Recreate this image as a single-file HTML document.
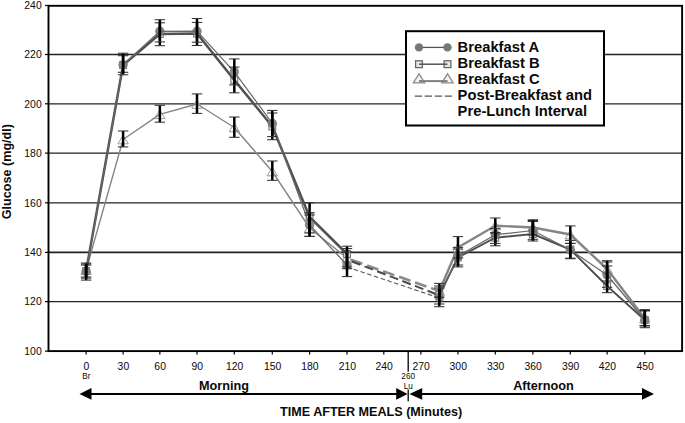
<!DOCTYPE html>
<html><head><meta charset="utf-8"><title>Glucose chart</title>
<style>
html,body{margin:0;padding:0;background:#fff;}
body{width:685px;height:423px;overflow:hidden;position:relative;font-family:"Liberation Sans",sans-serif;}
svg text{font-family:"Liberation Sans",sans-serif;fill:#0a0a0a;}
.tk{font-size:10.4px;}
.sm{font-size:8.2px;}
.lg{font-size:14.75px;font-weight:bold;}
.ax{font-size:12.6px;font-weight:bold;}
.mo{font-size:12.7px;font-weight:bold;}
</style></head><body>
<svg width="685" height="423" viewBox="0 0 685 423" style="position:absolute;left:0;top:0">
<rect x="0" y="0" width="685" height="423" fill="#fff"/>
<line x1="48.5" x2="682.5" y1="301.60" y2="301.60" stroke="#222" stroke-width="1.35"/>
<line x1="48.5" x2="682.5" y1="252.40" y2="252.40" stroke="#222" stroke-width="1.6"/>
<line x1="48.5" x2="682.5" y1="202.80" y2="202.80" stroke="#222" stroke-width="1.35"/>
<line x1="48.5" x2="682.5" y1="153.10" y2="153.10" stroke="#222" stroke-width="1.35"/>
<line x1="48.5" x2="682.5" y1="103.80" y2="103.80" stroke="#222" stroke-width="1.35"/>
<line x1="48.5" x2="682.5" y1="54.50" y2="54.50" stroke="#222" stroke-width="1.35"/>
<rect x="48.5" y="5.8" width="633.6" height="345.3" fill="none" stroke="#000" stroke-width="1.9"/>
<line x1="45" x2="48.5" y1="351.10" y2="351.10" stroke="#000" stroke-width="1.2"/>
<text x="41.7" y="354.80" text-anchor="end" class="tk">100</text>
<line x1="45" x2="48.5" y1="301.60" y2="301.60" stroke="#000" stroke-width="1.2"/>
<text x="41.7" y="305.30" text-anchor="end" class="tk">120</text>
<line x1="45" x2="48.5" y1="252.40" y2="252.40" stroke="#000" stroke-width="1.2"/>
<text x="41.7" y="256.10" text-anchor="end" class="tk">140</text>
<line x1="45" x2="48.5" y1="202.80" y2="202.80" stroke="#000" stroke-width="1.2"/>
<text x="41.7" y="206.50" text-anchor="end" class="tk">160</text>
<line x1="45" x2="48.5" y1="153.10" y2="153.10" stroke="#000" stroke-width="1.2"/>
<text x="41.7" y="156.80" text-anchor="end" class="tk">180</text>
<line x1="45" x2="48.5" y1="103.80" y2="103.80" stroke="#000" stroke-width="1.2"/>
<text x="41.7" y="107.50" text-anchor="end" class="tk">200</text>
<line x1="45" x2="48.5" y1="54.50" y2="54.50" stroke="#000" stroke-width="1.2"/>
<text x="41.7" y="58.20" text-anchor="end" class="tk">220</text>
<line x1="45" x2="48.5" y1="5.50" y2="5.50" stroke="#000" stroke-width="1.2"/>
<text x="41.7" y="9.20" text-anchor="end" class="tk">240</text>
<line x1="86.10" x2="86.10" y1="351" y2="354.6" stroke="#000" stroke-width="1.2"/>
<text x="86.40" y="370" text-anchor="middle" class="tk">0</text>
<line x1="123.10" x2="123.10" y1="351" y2="354.6" stroke="#000" stroke-width="1.2"/>
<text x="123.40" y="370" text-anchor="middle" class="tk">30</text>
<line x1="159.85" x2="159.85" y1="351" y2="354.6" stroke="#000" stroke-width="1.2"/>
<text x="160.15" y="370" text-anchor="middle" class="tk">60</text>
<line x1="197.00" x2="197.00" y1="351" y2="354.6" stroke="#000" stroke-width="1.2"/>
<text x="197.30" y="370" text-anchor="middle" class="tk">90</text>
<line x1="234.30" x2="234.30" y1="351" y2="354.6" stroke="#000" stroke-width="1.2"/>
<text x="234.60" y="370" text-anchor="middle" class="tk">120</text>
<line x1="272.30" x2="272.30" y1="351" y2="354.6" stroke="#000" stroke-width="1.2"/>
<text x="272.60" y="370" text-anchor="middle" class="tk">150</text>
<line x1="309.60" x2="309.60" y1="351" y2="354.6" stroke="#000" stroke-width="1.2"/>
<text x="309.90" y="370" text-anchor="middle" class="tk">180</text>
<line x1="347.00" x2="347.00" y1="351" y2="354.6" stroke="#000" stroke-width="1.2"/>
<text x="347.30" y="370" text-anchor="middle" class="tk">210</text>
<line x1="383.80" x2="383.80" y1="351" y2="354.6" stroke="#000" stroke-width="1.2"/>
<text x="384.10" y="370" text-anchor="middle" class="tk">240</text>
<line x1="420.90" x2="420.90" y1="351" y2="354.6" stroke="#000" stroke-width="1.2"/>
<text x="421.20" y="370" text-anchor="middle" class="tk">270</text>
<line x1="457.95" x2="457.95" y1="351" y2="354.6" stroke="#000" stroke-width="1.2"/>
<text x="458.25" y="370" text-anchor="middle" class="tk">300</text>
<line x1="495.30" x2="495.30" y1="351" y2="354.6" stroke="#000" stroke-width="1.2"/>
<text x="495.60" y="370" text-anchor="middle" class="tk">330</text>
<line x1="532.90" x2="532.90" y1="351" y2="354.6" stroke="#000" stroke-width="1.2"/>
<text x="533.20" y="370" text-anchor="middle" class="tk">360</text>
<line x1="570.30" x2="570.30" y1="351" y2="354.6" stroke="#000" stroke-width="1.2"/>
<text x="570.60" y="370" text-anchor="middle" class="tk">390</text>
<line x1="607.10" x2="607.10" y1="351" y2="354.6" stroke="#000" stroke-width="1.2"/>
<text x="607.40" y="370" text-anchor="middle" class="tk">420</text>
<line x1="644.80" x2="644.80" y1="351" y2="354.6" stroke="#000" stroke-width="1.2"/>
<text x="645.10" y="370" text-anchor="middle" class="tk">450</text>
<text x="86.40" y="379" text-anchor="middle" class="sm">Br</text>
<line x1="408.20" x2="408.20" y1="351" y2="371.7" stroke="#000" stroke-width="1.3"/>
<line x1="408.20" x2="408.20" y1="389.5" y2="401.3" stroke="#000" stroke-width="1.3"/>
<text x="408.20" y="378.8" text-anchor="middle" class="sm">260</text>
<text x="408.20" y="388.8" text-anchor="middle" class="sm">Lu</text>
<polygon points="86.10,265.70 80.90,274.30 91.30,274.30" fill="#fff" fill-opacity="0.75" stroke="#9a9a9a" stroke-width="1"/>
<polygon points="123.10,135.20 117.90,143.80 128.30,143.80" fill="#fff" fill-opacity="0.75" stroke="#9a9a9a" stroke-width="1"/>
<polygon points="159.85,110.00 154.65,118.60 165.05,118.60" fill="#fff" fill-opacity="0.75" stroke="#9a9a9a" stroke-width="1"/>
<polygon points="197.00,99.70 191.80,108.30 202.20,108.30" fill="#fff" fill-opacity="0.75" stroke="#9a9a9a" stroke-width="1"/>
<polygon points="234.30,123.20 229.10,131.80 239.50,131.80" fill="#fff" fill-opacity="0.75" stroke="#9a9a9a" stroke-width="1"/>
<polygon points="272.30,167.20 267.10,175.80 277.50,175.80" fill="#fff" fill-opacity="0.75" stroke="#9a9a9a" stroke-width="1"/>
<polygon points="309.60,223.70 304.40,232.30 314.80,232.30" fill="#fff" fill-opacity="0.75" stroke="#9a9a9a" stroke-width="1"/>
<polygon points="347.00,253.70 341.80,262.30 352.20,262.30" fill="#fff" fill-opacity="0.75" stroke="#9a9a9a" stroke-width="1"/>
<polygon points="439.30,286.70 434.10,295.30 444.50,295.30" fill="#fff" fill-opacity="0.75" stroke="#9a9a9a" stroke-width="1"/>
<polygon points="457.95,243.20 452.75,251.80 463.15,251.80" fill="#fff" fill-opacity="0.75" stroke="#9a9a9a" stroke-width="1"/>
<polygon points="495.30,221.40 490.10,230.00 500.50,230.00" fill="#fff" fill-opacity="0.75" stroke="#9a9a9a" stroke-width="1"/>
<polygon points="532.90,223.20 527.70,231.80 538.10,231.80" fill="#fff" fill-opacity="0.75" stroke="#9a9a9a" stroke-width="1"/>
<polygon points="570.30,230.20 565.10,238.80 575.50,238.80" fill="#fff" fill-opacity="0.75" stroke="#9a9a9a" stroke-width="1"/>
<polygon points="607.10,264.70 601.90,273.30 612.30,273.30" fill="#fff" fill-opacity="0.75" stroke="#9a9a9a" stroke-width="1"/>
<polygon points="644.80,314.20 639.60,322.80 650.00,322.80" fill="#fff" fill-opacity="0.75" stroke="#9a9a9a" stroke-width="1"/>
<polyline points="86.10,270.00 123.10,139.50 159.85,114.30 197.00,104.00 234.30,127.50 272.30,171.50 309.60,228.00 347.00,258.00" fill="none" stroke="#858585" stroke-width="1.4" stroke-linejoin="round"/>
<polyline points="439.30,291.00 457.95,247.50 495.30,225.70 532.90,227.50 570.30,234.50 607.10,269.00 644.80,318.50" fill="none" stroke="#858585" stroke-width="2.4" stroke-linejoin="round"/>
<line x1="351.00" y1="259.80" x2="439.30" y2="291.00" stroke="#8a8a8a" stroke-width="2.6" stroke-dasharray="12 5"/>
<rect x="82.70" y="267.60" width="6.8" height="6.8" fill="#eee" fill-opacity="0.8" stroke="#777" stroke-width="1.1"/>
<rect x="119.70" y="61.60" width="6.8" height="6.8" fill="#eee" fill-opacity="0.8" stroke="#777" stroke-width="1.1"/>
<rect x="156.45" y="30.60" width="6.8" height="6.8" fill="#eee" fill-opacity="0.8" stroke="#777" stroke-width="1.1"/>
<rect x="193.60" y="30.10" width="6.8" height="6.8" fill="#eee" fill-opacity="0.8" stroke="#777" stroke-width="1.1"/>
<rect x="230.90" y="76.60" width="6.8" height="6.8" fill="#eee" fill-opacity="0.8" stroke="#777" stroke-width="1.1"/>
<rect x="268.90" y="123.10" width="6.8" height="6.8" fill="#eee" fill-opacity="0.8" stroke="#777" stroke-width="1.1"/>
<rect x="306.20" y="213.60" width="6.8" height="6.8" fill="#eee" fill-opacity="0.8" stroke="#777" stroke-width="1.1"/>
<rect x="343.60" y="250.60" width="6.8" height="6.8" fill="#eee" fill-opacity="0.8" stroke="#777" stroke-width="1.1"/>
<rect x="435.90" y="291.60" width="6.8" height="6.8" fill="#eee" fill-opacity="0.8" stroke="#777" stroke-width="1.1"/>
<rect x="454.55" y="254.10" width="6.8" height="6.8" fill="#eee" fill-opacity="0.8" stroke="#777" stroke-width="1.1"/>
<rect x="491.90" y="234.30" width="6.8" height="6.8" fill="#eee" fill-opacity="0.8" stroke="#777" stroke-width="1.1"/>
<rect x="529.50" y="230.60" width="6.8" height="6.8" fill="#eee" fill-opacity="0.8" stroke="#777" stroke-width="1.1"/>
<rect x="566.90" y="246.10" width="6.8" height="6.8" fill="#eee" fill-opacity="0.8" stroke="#777" stroke-width="1.1"/>
<rect x="603.70" y="282.60" width="6.8" height="6.8" fill="#eee" fill-opacity="0.8" stroke="#777" stroke-width="1.1"/>
<rect x="641.40" y="316.60" width="6.8" height="6.8" fill="#eee" fill-opacity="0.8" stroke="#777" stroke-width="1.1"/>
<polyline points="86.10,271.00 123.10,65.00 159.85,34.00 197.00,33.50 234.30,80.00 272.30,126.50 309.60,217.00 347.00,254.00" fill="none" stroke="#505050" stroke-width="2.5" stroke-linejoin="round"/>
<polyline points="439.30,295.00 457.95,257.50 495.30,237.70 532.90,234.00 570.30,249.50 607.10,286.00 644.80,320.00" fill="none" stroke="#505050" stroke-width="1.9" stroke-linejoin="round"/>
<line x1="352.00" y1="261.50" x2="439.30" y2="295.30" stroke="#4a4a4a" stroke-width="1.9" stroke-dasharray="9 4.5"/>
<circle cx="86.10" cy="271.50" r="4.7" fill="#7d7d7d" fill-opacity="0.92"/>
<circle cx="123.10" cy="64.80" r="4.7" fill="#7d7d7d" fill-opacity="0.92"/>
<circle cx="159.85" cy="31.30" r="4.7" fill="#7d7d7d" fill-opacity="0.92"/>
<circle cx="197.00" cy="31.20" r="4.7" fill="#7d7d7d" fill-opacity="0.92"/>
<circle cx="234.30" cy="71.90" r="4.7" fill="#7d7d7d" fill-opacity="0.92"/>
<circle cx="272.30" cy="123.40" r="4.7" fill="#7d7d7d" fill-opacity="0.92"/>
<circle cx="309.60" cy="225.00" r="4.7" fill="#7d7d7d" fill-opacity="0.92"/>
<circle cx="347.00" cy="265.00" r="4.7" fill="#7d7d7d" fill-opacity="0.92"/>
<circle cx="439.30" cy="297.50" r="4.7" fill="#7d7d7d" fill-opacity="0.92"/>
<circle cx="457.95" cy="256.00" r="4.7" fill="#7d7d7d" fill-opacity="0.92"/>
<circle cx="495.30" cy="234.70" r="4.7" fill="#7d7d7d" fill-opacity="0.92"/>
<circle cx="532.90" cy="230.50" r="4.7" fill="#7d7d7d" fill-opacity="0.92"/>
<circle cx="570.30" cy="250.00" r="4.7" fill="#7d7d7d" fill-opacity="0.92"/>
<circle cx="607.10" cy="275.00" r="4.7" fill="#7d7d7d" fill-opacity="0.92"/>
<circle cx="644.80" cy="320.00" r="4.7" fill="#7d7d7d" fill-opacity="0.92"/>
<polyline points="86.10,271.50 123.10,64.80 159.85,31.30 197.00,31.20 234.30,71.90 272.30,123.40 309.60,225.00 347.00,265.00" fill="none" stroke="#666" stroke-width="1.2" stroke-linejoin="round"/>
<polyline points="439.30,297.50 457.95,256.00 495.30,234.70 532.90,230.50 570.30,250.00 607.10,275.00 644.80,320.00" fill="none" stroke="#666" stroke-width="1.2" stroke-linejoin="round"/>
<line x1="347.00" y1="267.00" x2="439.30" y2="298.00" stroke="#555" stroke-width="1.1" stroke-dasharray="4.5 2.6"/>
<line x1="86.10" x2="86.10" y1="264.00" y2="277.00" stroke="#000" stroke-width="2.5"/>
<line x1="80.90" x2="91.30" y1="264.00" y2="264.00" stroke="#333" stroke-width="1.05"/>
<line x1="80.90" x2="91.30" y1="277.00" y2="277.00" stroke="#333" stroke-width="1.05"/>
<line x1="123.10" x2="123.10" y1="131.00" y2="146.90" stroke="#000" stroke-width="2.5"/>
<line x1="117.90" x2="128.30" y1="131.00" y2="131.00" stroke="#333" stroke-width="1.05"/>
<line x1="117.90" x2="128.30" y1="146.90" y2="146.90" stroke="#333" stroke-width="1.05"/>
<line x1="159.85" x2="159.85" y1="105.30" y2="122.20" stroke="#000" stroke-width="2.5"/>
<line x1="154.65" x2="165.05" y1="105.30" y2="105.30" stroke="#333" stroke-width="1.05"/>
<line x1="154.65" x2="165.05" y1="122.20" y2="122.20" stroke="#333" stroke-width="1.05"/>
<line x1="197.00" x2="197.00" y1="93.90" y2="113.40" stroke="#000" stroke-width="2.5"/>
<line x1="191.80" x2="202.20" y1="93.90" y2="93.90" stroke="#333" stroke-width="1.05"/>
<line x1="191.80" x2="202.20" y1="113.40" y2="113.40" stroke="#333" stroke-width="1.05"/>
<line x1="234.30" x2="234.30" y1="117.00" y2="137.30" stroke="#000" stroke-width="2.5"/>
<line x1="229.10" x2="239.50" y1="117.00" y2="117.00" stroke="#333" stroke-width="1.05"/>
<line x1="229.10" x2="239.50" y1="137.30" y2="137.30" stroke="#333" stroke-width="1.05"/>
<line x1="272.30" x2="272.30" y1="161.00" y2="180.30" stroke="#000" stroke-width="2.5"/>
<line x1="267.10" x2="277.50" y1="161.00" y2="161.00" stroke="#333" stroke-width="1.05"/>
<line x1="267.10" x2="277.50" y1="180.30" y2="180.30" stroke="#333" stroke-width="1.05"/>
<line x1="309.60" x2="309.60" y1="215.00" y2="236.40" stroke="#000" stroke-width="2.5"/>
<line x1="304.40" x2="314.80" y1="215.00" y2="215.00" stroke="#333" stroke-width="1.05"/>
<line x1="304.40" x2="314.80" y1="236.40" y2="236.40" stroke="#333" stroke-width="1.05"/>
<line x1="347.00" x2="347.00" y1="248.60" y2="268.70" stroke="#000" stroke-width="2.5"/>
<line x1="341.80" x2="352.20" y1="248.60" y2="248.60" stroke="#333" stroke-width="1.05"/>
<line x1="341.80" x2="352.20" y1="268.70" y2="268.70" stroke="#333" stroke-width="1.05"/>
<line x1="439.30" x2="439.30" y1="283.40" y2="297.20" stroke="#000" stroke-width="2.5"/>
<line x1="434.10" x2="444.50" y1="283.40" y2="283.40" stroke="#333" stroke-width="1.05"/>
<line x1="434.10" x2="444.50" y1="297.20" y2="297.20" stroke="#333" stroke-width="1.05"/>
<line x1="457.95" x2="457.95" y1="236.60" y2="258.00" stroke="#000" stroke-width="2.5"/>
<line x1="452.75" x2="463.15" y1="236.60" y2="236.60" stroke="#333" stroke-width="1.05"/>
<line x1="452.75" x2="463.15" y1="258.00" y2="258.00" stroke="#333" stroke-width="1.05"/>
<line x1="495.30" x2="495.30" y1="218.00" y2="232.80" stroke="#000" stroke-width="2.5"/>
<line x1="490.10" x2="500.50" y1="218.00" y2="218.00" stroke="#333" stroke-width="1.05"/>
<line x1="490.10" x2="500.50" y1="232.80" y2="232.80" stroke="#333" stroke-width="1.05"/>
<line x1="532.90" x2="532.90" y1="220.50" y2="235.00" stroke="#000" stroke-width="2.5"/>
<line x1="527.70" x2="538.10" y1="220.50" y2="220.50" stroke="#333" stroke-width="1.05"/>
<line x1="527.70" x2="538.10" y1="235.00" y2="235.00" stroke="#333" stroke-width="1.05"/>
<line x1="570.30" x2="570.30" y1="225.90" y2="243.40" stroke="#000" stroke-width="2.5"/>
<line x1="565.10" x2="575.50" y1="225.90" y2="225.90" stroke="#333" stroke-width="1.05"/>
<line x1="565.10" x2="575.50" y1="243.40" y2="243.40" stroke="#333" stroke-width="1.05"/>
<line x1="607.10" x2="607.10" y1="262.00" y2="281.00" stroke="#000" stroke-width="2.5"/>
<line x1="601.90" x2="612.30" y1="262.00" y2="262.00" stroke="#333" stroke-width="1.05"/>
<line x1="601.90" x2="612.30" y1="281.00" y2="281.00" stroke="#333" stroke-width="1.05"/>
<line x1="644.80" x2="644.80" y1="310.50" y2="325.50" stroke="#000" stroke-width="2.5"/>
<line x1="639.60" x2="650.00" y1="310.50" y2="310.50" stroke="#333" stroke-width="1.05"/>
<line x1="639.60" x2="650.00" y1="325.50" y2="325.50" stroke="#333" stroke-width="1.05"/>
<line x1="86.10" x2="86.10" y1="265.10" y2="278.10" stroke="#000" stroke-width="2.5"/>
<line x1="80.90" x2="91.30" y1="265.10" y2="265.10" stroke="#333" stroke-width="1.05"/>
<line x1="80.90" x2="91.30" y1="278.10" y2="278.10" stroke="#333" stroke-width="1.05"/>
<line x1="123.10" x2="123.10" y1="55.70" y2="72.30" stroke="#000" stroke-width="2.5"/>
<line x1="117.90" x2="128.30" y1="55.70" y2="55.70" stroke="#333" stroke-width="1.05"/>
<line x1="117.90" x2="128.30" y1="72.30" y2="72.30" stroke="#333" stroke-width="1.05"/>
<line x1="159.85" x2="159.85" y1="22.80" y2="45.70" stroke="#000" stroke-width="2.5"/>
<line x1="154.65" x2="165.05" y1="22.80" y2="22.80" stroke="#333" stroke-width="1.05"/>
<line x1="154.65" x2="165.05" y1="45.70" y2="45.70" stroke="#333" stroke-width="1.05"/>
<line x1="197.00" x2="197.00" y1="22.40" y2="45.50" stroke="#000" stroke-width="2.5"/>
<line x1="191.80" x2="202.20" y1="22.40" y2="22.40" stroke="#333" stroke-width="1.05"/>
<line x1="191.80" x2="202.20" y1="45.50" y2="45.50" stroke="#333" stroke-width="1.05"/>
<line x1="234.30" x2="234.30" y1="67.10" y2="92.80" stroke="#000" stroke-width="2.5"/>
<line x1="229.10" x2="239.50" y1="67.10" y2="67.10" stroke="#333" stroke-width="1.05"/>
<line x1="229.10" x2="239.50" y1="92.80" y2="92.80" stroke="#333" stroke-width="1.05"/>
<line x1="272.30" x2="272.30" y1="113.00" y2="139.70" stroke="#000" stroke-width="2.5"/>
<line x1="267.10" x2="277.50" y1="113.00" y2="113.00" stroke="#333" stroke-width="1.05"/>
<line x1="267.10" x2="277.50" y1="139.70" y2="139.70" stroke="#333" stroke-width="1.05"/>
<line x1="309.60" x2="309.60" y1="202.70" y2="233.00" stroke="#000" stroke-width="2.5"/>
<line x1="304.40" x2="314.80" y1="202.70" y2="202.70" stroke="#333" stroke-width="1.05"/>
<line x1="304.40" x2="314.80" y1="233.00" y2="233.00" stroke="#333" stroke-width="1.05"/>
<line x1="347.00" x2="347.00" y1="246.20" y2="266.90" stroke="#000" stroke-width="2.5"/>
<line x1="341.80" x2="352.20" y1="246.20" y2="246.20" stroke="#333" stroke-width="1.05"/>
<line x1="341.80" x2="352.20" y1="266.90" y2="266.90" stroke="#333" stroke-width="1.05"/>
<line x1="439.30" x2="439.30" y1="286.00" y2="304.00" stroke="#000" stroke-width="2.5"/>
<line x1="434.10" x2="444.50" y1="286.00" y2="286.00" stroke="#333" stroke-width="1.05"/>
<line x1="434.10" x2="444.50" y1="304.00" y2="304.00" stroke="#333" stroke-width="1.05"/>
<line x1="457.95" x2="457.95" y1="247.40" y2="265.00" stroke="#000" stroke-width="2.5"/>
<line x1="452.75" x2="463.15" y1="247.40" y2="247.40" stroke="#333" stroke-width="1.05"/>
<line x1="452.75" x2="463.15" y1="265.00" y2="265.00" stroke="#333" stroke-width="1.05"/>
<line x1="495.30" x2="495.30" y1="232.80" y2="245.80" stroke="#000" stroke-width="2.5"/>
<line x1="490.10" x2="500.50" y1="232.80" y2="232.80" stroke="#333" stroke-width="1.05"/>
<line x1="490.10" x2="500.50" y1="245.80" y2="245.80" stroke="#333" stroke-width="1.05"/>
<line x1="532.90" x2="532.90" y1="221.50" y2="239.30" stroke="#000" stroke-width="2.5"/>
<line x1="527.70" x2="538.10" y1="221.50" y2="221.50" stroke="#333" stroke-width="1.05"/>
<line x1="527.70" x2="538.10" y1="239.30" y2="239.30" stroke="#333" stroke-width="1.05"/>
<line x1="570.30" x2="570.30" y1="243.40" y2="258.20" stroke="#000" stroke-width="2.5"/>
<line x1="565.10" x2="575.50" y1="243.40" y2="243.40" stroke="#333" stroke-width="1.05"/>
<line x1="565.10" x2="575.50" y1="258.20" y2="258.20" stroke="#333" stroke-width="1.05"/>
<line x1="607.10" x2="607.10" y1="266.00" y2="292.70" stroke="#000" stroke-width="2.5"/>
<line x1="601.90" x2="612.30" y1="266.00" y2="266.00" stroke="#333" stroke-width="1.05"/>
<line x1="601.90" x2="612.30" y1="292.70" y2="292.70" stroke="#333" stroke-width="1.05"/>
<line x1="644.80" x2="644.80" y1="311.00" y2="326.00" stroke="#000" stroke-width="2.5"/>
<line x1="639.60" x2="650.00" y1="311.00" y2="311.00" stroke="#333" stroke-width="1.05"/>
<line x1="639.60" x2="650.00" y1="326.00" y2="326.00" stroke="#333" stroke-width="1.05"/>
<line x1="86.10" x2="86.10" y1="263.00" y2="280.10" stroke="#000" stroke-width="2.5"/>
<line x1="80.90" x2="91.30" y1="263.00" y2="263.00" stroke="#333" stroke-width="1.05"/>
<line x1="80.90" x2="91.30" y1="280.10" y2="280.10" stroke="#333" stroke-width="1.05"/>
<line x1="123.10" x2="123.10" y1="53.20" y2="74.80" stroke="#000" stroke-width="2.5"/>
<line x1="117.90" x2="128.30" y1="53.20" y2="53.20" stroke="#333" stroke-width="1.05"/>
<line x1="117.90" x2="128.30" y1="74.80" y2="74.80" stroke="#333" stroke-width="1.05"/>
<line x1="159.85" x2="159.85" y1="19.70" y2="41.90" stroke="#000" stroke-width="2.5"/>
<line x1="154.65" x2="165.05" y1="19.70" y2="19.70" stroke="#333" stroke-width="1.05"/>
<line x1="154.65" x2="165.05" y1="41.90" y2="41.90" stroke="#333" stroke-width="1.05"/>
<line x1="197.00" x2="197.00" y1="18.50" y2="42.20" stroke="#000" stroke-width="2.5"/>
<line x1="191.80" x2="202.20" y1="18.50" y2="18.50" stroke="#333" stroke-width="1.05"/>
<line x1="191.80" x2="202.20" y1="42.20" y2="42.20" stroke="#333" stroke-width="1.05"/>
<line x1="234.30" x2="234.30" y1="58.90" y2="84.90" stroke="#000" stroke-width="2.5"/>
<line x1="229.10" x2="239.50" y1="58.90" y2="58.90" stroke="#333" stroke-width="1.05"/>
<line x1="229.10" x2="239.50" y1="84.90" y2="84.90" stroke="#333" stroke-width="1.05"/>
<line x1="272.30" x2="272.30" y1="110.40" y2="136.60" stroke="#000" stroke-width="2.5"/>
<line x1="267.10" x2="277.50" y1="110.40" y2="110.40" stroke="#333" stroke-width="1.05"/>
<line x1="267.10" x2="277.50" y1="136.60" y2="136.60" stroke="#333" stroke-width="1.05"/>
<line x1="309.60" x2="309.60" y1="212.70" y2="236.40" stroke="#000" stroke-width="2.5"/>
<line x1="304.40" x2="314.80" y1="212.70" y2="212.70" stroke="#333" stroke-width="1.05"/>
<line x1="304.40" x2="314.80" y1="236.40" y2="236.40" stroke="#333" stroke-width="1.05"/>
<line x1="347.00" x2="347.00" y1="252.00" y2="276.60" stroke="#000" stroke-width="2.5"/>
<line x1="341.80" x2="352.20" y1="252.00" y2="252.00" stroke="#333" stroke-width="1.05"/>
<line x1="341.80" x2="352.20" y1="276.60" y2="276.60" stroke="#333" stroke-width="1.05"/>
<line x1="439.30" x2="439.30" y1="288.00" y2="306.70" stroke="#000" stroke-width="2.5"/>
<line x1="434.10" x2="444.50" y1="288.00" y2="288.00" stroke="#333" stroke-width="1.05"/>
<line x1="434.10" x2="444.50" y1="306.70" y2="306.70" stroke="#333" stroke-width="1.05"/>
<line x1="457.95" x2="457.95" y1="249.00" y2="266.90" stroke="#000" stroke-width="2.5"/>
<line x1="452.75" x2="463.15" y1="249.00" y2="249.00" stroke="#333" stroke-width="1.05"/>
<line x1="452.75" x2="463.15" y1="266.90" y2="266.90" stroke="#333" stroke-width="1.05"/>
<line x1="495.30" x2="495.30" y1="228.60" y2="243.40" stroke="#000" stroke-width="2.5"/>
<line x1="490.10" x2="500.50" y1="228.60" y2="228.60" stroke="#333" stroke-width="1.05"/>
<line x1="490.10" x2="500.50" y1="243.40" y2="243.40" stroke="#333" stroke-width="1.05"/>
<line x1="532.90" x2="532.90" y1="219.80" y2="241.00" stroke="#000" stroke-width="2.5"/>
<line x1="527.70" x2="538.10" y1="219.80" y2="219.80" stroke="#333" stroke-width="1.05"/>
<line x1="527.70" x2="538.10" y1="241.00" y2="241.00" stroke="#333" stroke-width="1.05"/>
<line x1="570.30" x2="570.30" y1="240.40" y2="258.70" stroke="#000" stroke-width="2.5"/>
<line x1="565.10" x2="575.50" y1="240.40" y2="240.40" stroke="#333" stroke-width="1.05"/>
<line x1="565.10" x2="575.50" y1="258.70" y2="258.70" stroke="#333" stroke-width="1.05"/>
<line x1="607.10" x2="607.10" y1="260.70" y2="287.30" stroke="#000" stroke-width="2.5"/>
<line x1="601.90" x2="612.30" y1="260.70" y2="260.70" stroke="#333" stroke-width="1.05"/>
<line x1="601.90" x2="612.30" y1="287.30" y2="287.30" stroke="#333" stroke-width="1.05"/>
<line x1="644.80" x2="644.80" y1="309.60" y2="327.70" stroke="#000" stroke-width="2.5"/>
<line x1="639.60" x2="650.00" y1="309.60" y2="309.60" stroke="#333" stroke-width="1.05"/>
<line x1="639.60" x2="650.00" y1="327.70" y2="327.70" stroke="#333" stroke-width="1.05"/>
<rect x="406" y="31.2" width="198" height="94.3" fill="#fff" stroke="#000" stroke-width="2"/>
<line x1="419" x2="447.5" y1="47.4" y2="47.4" stroke="#555" stroke-width="1.3"/>
<circle cx="419" cy="47.4" r="4.2" fill="#777"/><circle cx="447.5" cy="47.4" r="4.2" fill="#777"/>
<rect x="415.6" y="60.800000000000004" width="6.8" height="6.8" fill="#e8e8e8" stroke="#666" stroke-width="1.3"/>
<rect x="444.1" y="60.800000000000004" width="6.8" height="6.8" fill="#e8e8e8" stroke="#666" stroke-width="1.3"/>
<line x1="419" x2="447.5" y1="64.2" y2="64.2" stroke="#555" stroke-width="1.5"/>
<polygon points="419,73.8 413.3,82.8 424.7,82.8" fill="#f4f4f4" stroke="#8c8c8c" stroke-width="1.3"/>
<polygon points="447.5,73.8 441.8,82.8 453.2,82.8" fill="#f4f4f4" stroke="#8c8c8c" stroke-width="1.3"/>
<line x1="419" x2="447.5" y1="81.1" y2="81.1" stroke="#808080" stroke-width="2"/>
<line x1="414.7" x2="452.2" y1="96.1" y2="96.1" stroke="#555" stroke-width="1.4" stroke-dasharray="7.4 2.6"/>
<text x="457.6" y="52.4" class="lg">Breakfast A</text>
<text x="457.6" y="68.3" class="lg">Breakfast B</text>
<text x="457.6" y="84.3" class="lg">Breakfast C</text>
<text x="457.6" y="100.4" class="lg">Post-Breakfast and</text>
<text x="457.6" y="116" class="lg">Pre-Lunch Interval</text>
<text transform="translate(11.2,171.6) rotate(-90)" text-anchor="middle" class="ax">Glucose (mg/dl)</text>
<text x="224" y="389.8" text-anchor="middle" class="mo">Morning</text>
<text x="543.5" y="389.8" text-anchor="middle" class="mo">Afternoon</text>
<text x="371.1" y="416.3" text-anchor="middle" class="ax">TIME AFTER MEALS (Minutes)</text>
<line x1="90" x2="398" y1="393.9" y2="393.9" stroke="#000" stroke-width="2"/>
<polygon points="79.5,393.9 91.5,388.09999999999997 91.5,399.7" fill="#000"/>
<polygon points="407.50,393.9 396.20,388.0 396.20,399.79999999999995" fill="#000"/>
<line x1="419.20" x2="645" y1="393.9" y2="393.9" stroke="#000" stroke-width="2"/>
<polygon points="409.40,393.9 422.20,388.0 422.20,399.79999999999995" fill="#000"/>
<polygon points="654,393.9 642,388.09999999999997 642,399.7" fill="#000"/>
</svg>
</body></html>
